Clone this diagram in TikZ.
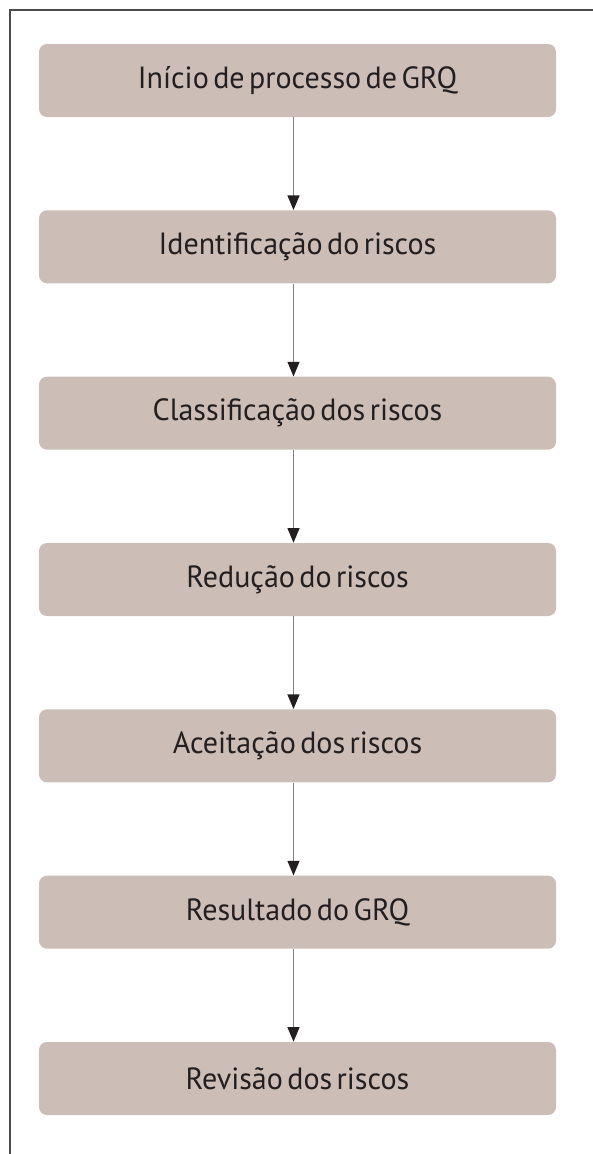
\documentclass[tikz,border=0pt]{standalone}
\usepackage{fontspec}
\setmainfont{PT Sans}[FakeStretch=0.98,WordSpace=0.55]
\usetikzlibrary{arrows.meta}
\definecolor{caixa}{HTML}{CCBDB6}
\definecolor{texto}{HTML}{231F20}
\definecolor{linha}{HTML}{7F7F7F}
\definecolor{borda}{HTML}{4D4D4D}

\tikzset{
    etapa/.style={fill=caixa, rounded corners=6pt, minimum width=387.75pt,
        minimum height=54.75pt, text=texto, font=\fontsize{23}{27}\selectfont},
    seta/.style={draw=linha, line width=1pt,
        -{Triangle[width=9pt,length=11pt,color=texto]}}
}

\begin{document}
\begin{tikzpicture}[x=0.75pt,y=-0.75pt]
    \useasboundingbox (0,0) rectangle (593,1154);

    % moldura
    \draw[borda, line width=0.8pt] (10,1154) -- (10,10) -- (593,10);

    % etapas
    \node[etapa] (inicio) at (297.5,80.5) {Início de processo de GRQ};
    \node[etapa] (ident) at (297.5,246.8) {Identificação do riscos};
    \node[etapa] (classif) at (297.5,413.2) {Classificação dos riscos};
    \node[etapa] (reducao) at (297.5,579.5) {Redução do riscos};
    \node[etapa] (aceit) at (297.5,745.8) {Aceitação dos riscos};
    \node[etapa] (result) at (297.5,912.2) {Resultado do GRQ};
    \node[etapa] (revisao) at (297.5,1078.5) {Revisão dos riscos};

    % setas
    \draw[seta] ([xshift=-3pt]inicio.south) -- ([xshift=-3pt]ident.north);
    \draw[seta] ([xshift=-3pt]ident.south) -- ([xshift=-3pt]classif.north);
    \draw[seta] ([xshift=-3pt]classif.south) -- ([xshift=-3pt]reducao.north);
    \draw[seta] ([xshift=-3pt]reducao.south) -- ([xshift=-3pt]aceit.north);
    \draw[seta] ([xshift=-3pt]aceit.south) -- ([xshift=-3pt]result.north);
    \draw[seta] ([xshift=-3pt]result.south) -- ([xshift=-3pt]revisao.north);

\end{tikzpicture}
\end{document}
